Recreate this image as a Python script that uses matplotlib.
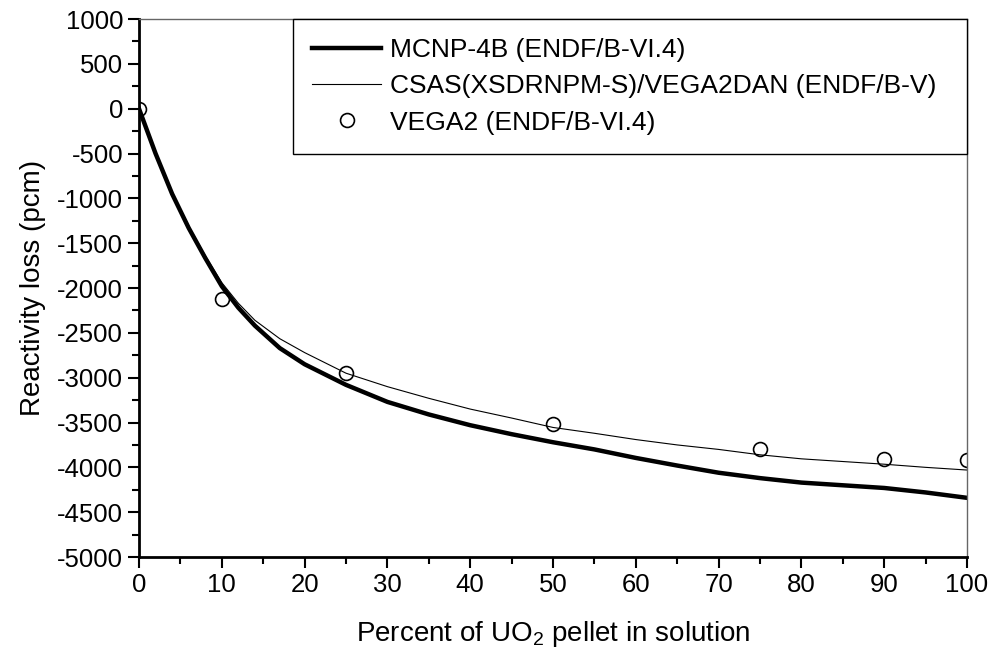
import numpy as np
import matplotlib
matplotlib.use("Agg")
import matplotlib.pyplot as plt
from matplotlib.ticker import MultipleLocator

plt.rcParams['font.family'] = ['Liberation Sans', 'DejaVu Sans']
plt.rcParams['mathtext.default'] = 'regular'
plt.rcParams['axes.unicode_minus'] = False

# curve values
pct = [0, 2, 4, 6, 8, 10, 12, 14, 17, 20, 25, 30, 35, 40, 45, 50, 55, 60,
       65, 70, 75, 80, 85, 90, 95, 100]
mcnp = [0, -500, -950, -1330, -1665, -1980, -2220, -2420, -2670, -2850, -3080,
        -3270, -3410, -3530, -3630, -3720, -3800, -3895, -3980, -4060, -4120,
        -4170, -4200, -4230, -4280, -4340]
csas = [0, -495, -940, -1310, -1640, -1940, -2170, -2360, -2565, -2720, -2950,
        -3100, -3230, -3350, -3450, -3555, -3620, -3690, -3750, -3800, -3860,
        -3905, -3935, -3965, -4000, -4030]

# VEGA2 points
vega_x = [0, 10, 25, 50, 75, 90, 100]
vega_y = [0, -2120, -2950, -3520, -3800, -3910, -3920]

fig = plt.figure(figsize=(9.9, 6.54), dpi=100)
ax = fig.add_axes([0.1404, 0.1483, 0.8364, 0.8226])

ax.plot(pct, mcnp, color='black', lw=3.2, label='MCNP-4B (ENDF/B-VI.4)')
ax.plot(pct, csas, color='black', lw=0.8, label='CSAS(XSDRNPM-S)/VEGA2DAN (ENDF/B-V)')
ax.plot(vega_x, vega_y, 'o', ms=10, mfc='none', mec='black', mew=1.2,
        label='VEGA2 (ENDF/B-VI.4)')

ax.set_xlim(0, 100)
ax.set_ylim(-5000, 1000)
ax.xaxis.set_major_locator(MultipleLocator(10))
ax.xaxis.set_minor_locator(MultipleLocator(5))
ax.yaxis.set_major_locator(MultipleLocator(500))
ax.yaxis.set_minor_locator(MultipleLocator(250))
ax.tick_params(which='both', direction='out', width=1.5, labelsize=18.5,
               top=False, right=False)
ax.tick_params(which='major', length=8)
ax.tick_params(which='minor', length=5)

for s in ['left', 'bottom']:
    ax.spines[s].set_linewidth(2)
for s in ['top', 'right']:
    ax.spines[s].set_linewidth(1)
    ax.spines[s].set_color('#666666')

ax.set_xlabel('Percent of UO$_2$ pellet in solution', fontsize=20, labelpad=16)
ax.set_ylabel('Reactivity loss (pcm)', fontsize=20, labelpad=8)

leg = ax.legend(loc='upper left', bbox_to_anchor=(0.186, 0.0, 0.814, 1.0),
                mode='expand', borderaxespad=0, fancybox=False,
                edgecolor='black', fontsize=19, framealpha=1,
                handlelength=2.6, handletextpad=0.35, labelspacing=0.46,
                borderpad=0.73)
leg.get_frame().set_linewidth(1)

fig.savefig('out.png', dpi=100)
